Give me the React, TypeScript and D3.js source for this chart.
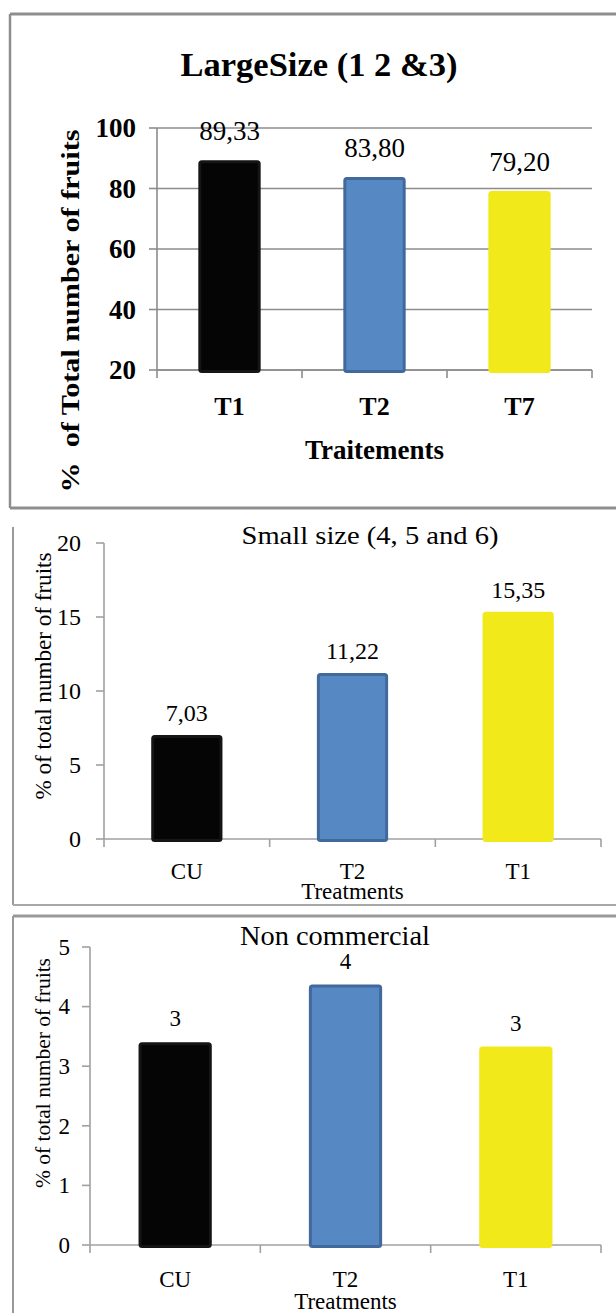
import React from "react";
import * as d3 from "d3";

// Large size (grades 1, 2 & 3)
const largeCategories = ["T1", "T2", "T7"];
const largeValues = [89.33, 83.8, 79.2];
const largeTicks = [20, 40, 60, 80, 100];

// Small size (grades 4, 5 and 6)
const smallCategories = ["CU", "T2", "T1"];
const smallValues = [7.03, 11.22, 15.35];
const smallTicks = [0, 5, 10, 15, 20];

// Non commercial fruits
const nonCommCategories = ["CU", "T2", "T1"];
const nonCommValues = [3.4, 4.37, 3.33];
const nonCommTicks = [0, 1, 2, 3, 4, 5];

const barFills = ["#050505", "#5689c4", "#f2e91a"];
const barStrokes = ["#151515", "#41699b", "#f2e91a"];

const commaLocale = d3.formatLocale({
  decimal: ",",
  thousands: ".",
  grouping: [3],
  currency: ["", ""],
});
const fmt2 = commaLocale.format(".2f");
const fmt0 = commaLocale.format(".0f");

const FONT = "'Liberation Serif', 'Times New Roman', serif";

type PanelProps = {
  title: string;
  titleX: number;
  titleY: number;
  titleSize: number;
  titleLen?: number;
  bold: boolean;
  categories: string[];
  values: number[];
  ticks: number[];
  format: (v: number) => string;
  xRange: [number, number];
  yDomain: [number, number];
  yRange: [number, number];
  grid: boolean;
  axisColor: string;
  tickLabelX: number;
  tickSize: number;
  valueSize: number;
  valueOffset: number;
  catY: number;
  catSize: number;
  xTitle: string;
  xTitleY: number;
  xTitleSize: number;
  yTitle: string;
  yTitleX: number;
  yTitleY: number;
  yTitleSize: number;
  yTitleLen?: number;
};

function Panel(p: PanelProps) {
  const x = d3.scaleBand<string>().domain(p.categories).range(p.xRange).padding(0);
  const y = d3.scaleLinear().domain(p.yDomain).range(p.yRange);
  const barW = x.bandwidth() * 0.43;
  const base = y(p.yDomain[0]);
  const weight = p.bold ? "bold" : "normal";
  const boundaries = [...p.categories.map((c) => x(c) as number), p.xRange[1]];
  const xMid = (p.xRange[0] + p.xRange[1]) / 2;

  return (
    <g fontFamily={FONT} fill="#000">
      {/* horizontal gridlines or bare axis */}
      {p.grid &&
        p.ticks.map((t) => (
          <line key={"g" + t} x1={p.xRange[0]} x2={p.xRange[1]} y1={y(t)} y2={y(t)} stroke="#8c8c8c" strokeWidth={1.6} />
        ))}
      <line x1={p.xRange[0]} x2={p.xRange[1]} y1={base} y2={base} stroke={p.axisColor} strokeWidth={1.6} />
      <line x1={p.xRange[0]} x2={p.xRange[0]} y1={y(p.yDomain[1])} y2={base} stroke={p.axisColor} strokeWidth={1.6} />
      {p.ticks.map((t) => (
        <line key={"yt" + t} x1={p.xRange[0] - 8} x2={p.xRange[0]} y1={y(t)} y2={y(t)} stroke={p.axisColor} strokeWidth={1.6} />
      ))}
      {boundaries.map((bx, i) => (
        <line key={"xt" + i} x1={bx} x2={bx} y1={base} y2={base + 8} stroke={p.axisColor} strokeWidth={1.6} />
      ))}

      {/* bars */}
      {p.categories.map((c, i) => {
        const cx = (x(c) as number) + x.bandwidth() / 2;
        const top = y(p.values[i]);
        return (
          <g key={"b" + c}>
            <rect
              x={cx - barW / 2 + 1.5}
              y={top + 1.5}
              width={barW - 3}
              height={base - top}
              rx={2}
              fill={barFills[i]}
              stroke={barStrokes[i]}
              strokeWidth={3}
            />
            <text
              x={cx}
              y={top - p.valueOffset}
              textAnchor="middle"
              fontSize={p.valueSize}
            >
              {p.format(p.values[i])}
            </text>
          </g>
        );
      })}

      {/* tick labels */}
      {p.ticks.map((t) => (
        <text key={"tl" + t} x={p.tickLabelX} y={y(t)} dy="0.34em" textAnchor="end" fontSize={p.tickSize} fontWeight={weight}>
          {t}
        </text>
      ))}
      {p.categories.map((c) => (
        <text key={"cl" + c} x={(x(c) as number) + x.bandwidth() / 2} y={p.catY} textAnchor="middle" fontSize={p.catSize} fontWeight={weight}>
          {c}
        </text>
      ))}

      {/* titles */}
      <text
        x={p.titleX}
        y={p.titleY}
        textAnchor="middle"
        fontSize={p.titleSize}
        fontWeight={weight}
        textLength={p.titleLen}
        lengthAdjust="spacingAndGlyphs"
      >
        {p.title}
      </text>
      <text x={xMid} y={p.xTitleY} textAnchor="middle" fontSize={p.xTitleSize} fontWeight={weight}>
        {p.xTitle}
      </text>
      <text
        transform={`translate(${p.yTitleX},${p.yTitleY}) rotate(-90)`}
        textAnchor="middle"
        dy="0.35em"
        fontSize={p.yTitleSize}
        fontWeight={weight}
        style={{ whiteSpace: "pre" }}
        textLength={p.yTitleLen}
        lengthAdjust="spacingAndGlyphs"
      >
        {p.yTitle}
      </text>
    </g>
  );
}

export default function App() {
  return (
    <svg
      width={616}
      height={1313}
      viewBox="0 0 616 1313"
      style={{ position: "absolute", left: 0, top: 0, background: "#fff" }}
    >
      <rect x={0} y={0} width={616} height={1313} fill="#fff" />

      {/* frames */}
      <line x1={10} x2={616} y1={14} y2={14} stroke="#8e8e8e" strokeWidth={3} />
      <line x1={10} x2={10} y1={14} y2={508} stroke="#8e8e8e" strokeWidth={2.5} />
      <line x1={10} x2={616} y1={508} y2={508} stroke="#8e8e8e" strokeWidth={3} />

      <line x1={13} x2={13} y1={527} y2={905} stroke="#9a9a9a" strokeWidth={2} />
      <line x1={13} x2={616} y1={905} y2={905} stroke="#a8a8a8" strokeWidth={2} />

      <line x1={13} x2={616} y1={916} y2={916} stroke="#999" strokeWidth={3} />
      <line x1={13} x2={13} y1={916} y2={1313} stroke="#999" strokeWidth={2} />

      <Panel
        title="LargeSize (1 2 &3)"
        titleX={319}
        titleY={76}
        titleSize={34}
        titleLen={277}
        bold={true}
        categories={largeCategories}
        values={largeValues}
        ticks={largeTicks}
        format={fmt2}
        xRange={[157, 592]}
        yDomain={[20, 100]}
        yRange={[370, 128]}
        grid={true}
        axisColor="#8c8c8c"
        tickLabelX={136}
        tickSize={27}
        valueSize={27}
        valueOffset={20}
        catY={415}
        catSize={26}
        xTitle="Traitements"
        xTitleY={459}
        xTitleSize={27}
        yTitle="%  of Total number of fruits"
        yTitleX={70}
        yTitleY={311}
        yTitleSize={26}
        yTitleLen={363}
      />

      <Panel
        title="Small size (4, 5 and 6)"
        titleX={370}
        titleY={544}
        titleSize={26}
        titleLen={257}
        bold={false}
        categories={smallCategories}
        values={smallValues}
        ticks={smallTicks}
        format={fmt2}
        xRange={[104, 601]}
        yDomain={[0, 20]}
        yRange={[839, 543]}
        grid={false}
        axisColor="#a0a0a0"
        tickLabelX={81}
        tickSize={24}
        valueSize={24}
        valueOffset={14}
        catY={879}
        catSize={23}
        xTitle="Treatments"
        xTitleY={899}
        xTitleSize={23}
        yTitle="% of total number of fruits"
        yTitleX={43}
        yTitleY={676}
        yTitleSize={23}
        yTitleLen={247}
      />

      <Panel
        title="Non commercial"
        titleX={335}
        titleY={945}
        titleSize={27}
        titleLen={190}
        bold={false}
        categories={nonCommCategories}
        values={nonCommValues}
        ticks={nonCommTicks}
        format={fmt0}
        xRange={[90, 601]}
        yDomain={[0, 5]}
        yRange={[1245, 947]}
        grid={false}
        axisColor="#a0a0a0"
        tickLabelX={70}
        tickSize={23}
        valueSize={23}
        valueOffset={16}
        catY={1287}
        catSize={23}
        xTitle="Treatments"
        xTitleY={1309}
        xTitleSize={23}
        yTitle="% of total number of fruits"
        yTitleX={42}
        yTitleY={1073}
        yTitleSize={22}
        yTitleLen={230}
      />
    </svg>
  );
}
